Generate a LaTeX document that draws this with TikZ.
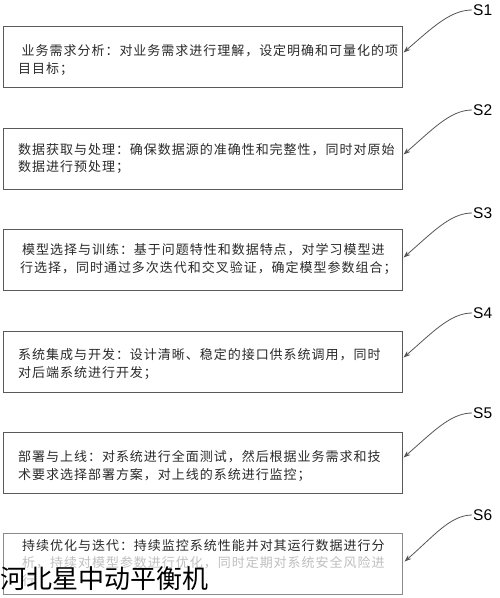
\documentclass[tikz,border=0pt]{standalone}
\usepackage{fontspec}
\setmainfont{Liberation Sans}
\newfontfamily\cjk[LetterSpace=7.5]{Noto Sans CJK SC}
\newfontfamily\wmfont{Noto Sans CJK SC}
\usetikzlibrary{arrows.meta,calc}
\definecolor{boxline}{HTML}{5A5A5A}
\definecolor{txt}{HTML}{2A2A2A}
\definecolor{arr}{HTML}{555555}
\tikzset{
  box/.style={draw=boxline, line width=1pt, minimum width=399pt, minimum height=61pt, inner sep=0pt},
  boxtext/.style={anchor=west, align=left, inner sep=0pt, text=txt, font=\cjk\fontsize{13}{17.5}\selectfont},
  steplabel/.style={anchor=west, inner sep=0pt, font=\fontsize{15.5}{16}\selectfont, text=black},
  pointer/.style={draw=arr, line width=0.8pt, -{Stealth[length=7pt,width=5pt]}},
}
\begin{document}
\begin{tikzpicture}[x=1pt,y=-1pt]
\useasboundingbox (0,0) rectangle (500,598);
\fill[white] (0,0) rectangle (500,598);

% boxes
\node[box] (b1) at (202.5,56.5) {};
\node[box] (b2) at (202.5,158.5) {};
\node[box] (b3) at (202.5,259.5) {};
\node[box] (b4) at (202.5,361.5) {};
\node[box] (b5) at (202.5,462.5) {};
\node[box, draw=boxline!70] (b6) at (202.5,563.5) {};

% texts
\node[boxtext] (t1) at (18,60) {\hspace{3.5pt}业务需求分析：对业务需求进行理解，设定明确和可量化的项\\目目标；};
\node[boxtext] (t2) at (18,158.5) {数据获取与处理：确保数据源的准确性和完整性，同时对原始\\数据进行预处理；};
\node[boxtext] (t3) at (20,259) {\hspace{2pt}模型选择与训练：基于问题特性和数据特点，对学习模型进\\行选择，同时通过多次迭代和交叉验证，确定模型参数组合；};
\node[boxtext] (t4) at (18,364) {系统集成与开发：设计清晰、稳定的接口供系统调用，同时\\对后端系统进行开发；};
\node[boxtext] (t5) at (18,466) {部署与上线：对系统进行全面测试，然后根据业务需求和技\\术要求选择部署方案，对上线的系统进行监控；};
\node[boxtext] (t6) at (22,563) {\textcolor{txt}{持续优化与迭代：持续监控系统性能并对其运行数据进行分}\\\textcolor{black!25}{析，持续对模型参数进行优化，同时定期对系统安全风险进}\\\textcolor{black!25}{行}};

% step labels
\node[steplabel] (s1) at (473,10) {S1};
\node[steplabel] (s2) at (473,110) {S2};
\node[steplabel] (s3) at (473,213) {S3};
\node[steplabel] (s4) at (473,313) {S4};
\node[steplabel] (s5) at (473,413) {S5};
\node[steplabel] (s6) at (473,515) {S6};

% arrow tips on the boxes
\coordinate (p1) at ($(b1.north east)+(1,27)$);
\coordinate (p2) at ($(b2.north east)+(1,27)$);
\coordinate (p3) at ($(b3.north east)+(1,29)$);
\coordinate (p4) at ($(b4.north east)+(1,27)$);
\coordinate (p5) at ($(b5.north east)+(1,26)$);
\coordinate (p6) at ($(b6.north east)+(2,29)$);

\foreach \i in {1,...,6}{
  \draw[pointer] ($(s\i.west)+(-1,0)$) .. controls +(-22,0) and +(28,-24) .. (p\i);
}

% watermark
\node[anchor=west, inner sep=0pt, font=\wmfont\fontsize{26}{28}\selectfont, text=black] (wm) at (0,579) {河北星中动平衡机};
\end{tikzpicture}
\end{document}
